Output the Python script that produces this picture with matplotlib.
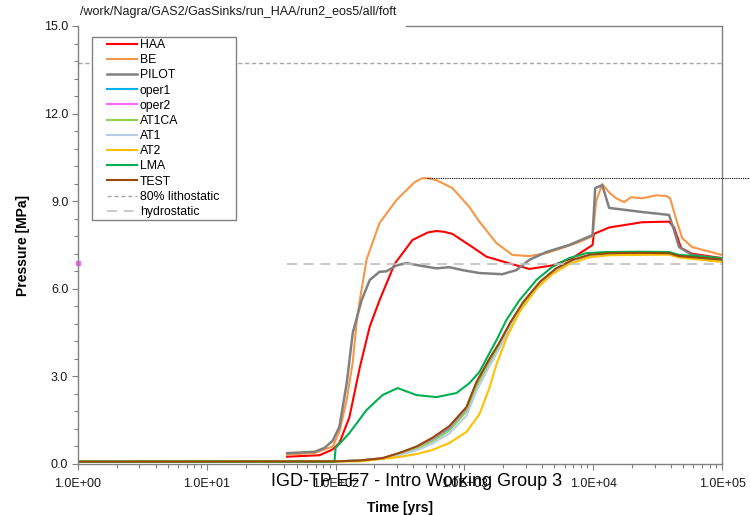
import numpy as np
import matplotlib
matplotlib.use("Agg")
import matplotlib.pyplot as plt
from matplotlib.patches import Rectangle
from matplotlib.ticker import FixedLocator, FuncFormatter

plt.rcParams['font.family'] = ['Liberation Sans', 'DejaVu Sans']

# pressure histories (time in years, pressure in MPa)
t_haa = [42, 75, 95, 107, 128, 154, 184, 219, 287, 395, 520, 607, 700, 807, 1153, 1483, 2118,
         3192, 4808, 6871, 9886, 10116, 13300, 23990, 38800, 42460, 48080, 58480, 100000]
p_haa = [0.25, 0.3, 0.5, 0.72, 1.6, 3.3, 4.7, 5.6, 6.85, 7.67, 7.93, 7.98, 7.95, 7.88, 7.43, 7.1, 6.9,
         6.68, 6.8, 7.05, 7.5, 7.88, 8.1, 8.28, 8.3, 8.1, 7.4, 7.2, 7.05]

t_be = [42, 69, 95, 107, 122, 136, 146, 154, 174, 219, 297, 355, 410, 472, 535, 607, 807, 1094, 1307,
        1770, 2355, 3192, 4324, 5754, 7780, 9886, 10550, 11750, 13300, 15070, 17380, 19720,
        23990, 30760, 36810, 39540, 43950, 48980, 58480, 100000]
p_be = [0.32, 0.38, 0.6, 1.1, 2.2, 3.5, 4.9, 5.6, 7.0, 8.25, 9.04, 9.38, 9.65, 9.79, 9.78, 9.72, 9.45,
        8.8, 8.3, 7.57, 7.16, 7.12, 7.22, 7.4, 7.6, 7.8, 9.0, 9.59, 9.3, 9.1, 8.97, 9.14,
        9.1, 9.2, 9.18, 9.1, 8.4, 7.74, 7.43, 7.16]

t_pilot = [42, 69, 82, 95, 107, 122, 136, 159, 184, 219, 248, 297, 355, 472, 607, 765, 965, 1307,
           1971, 2529, 3192, 4324, 6516, 9886, 10370, 11750, 13300, 23990, 38800, 42460, 46450,
           58480, 100000]
p_pilot = [0.37, 0.42, 0.55, 0.8, 1.27, 2.77, 4.5, 5.6, 6.3, 6.58, 6.6, 6.8, 6.88, 6.78, 6.7, 6.74,
           6.64, 6.54, 6.5, 6.64, 6.99, 7.26, 7.5, 7.84, 9.45, 9.55, 8.77, 8.63, 8.53, 8.0, 7.43,
           7.16, 7.02]

t_lma = [1, 98, 100, 128, 174, 231, 303, 425, 607, 867, 1094, 1307, 1803, 2118, 2670, 3614,
         4808, 6516, 8830, 12600, 22730, 38800, 46450, 100000]
p_lma = [0.08, 0.08, 0.55, 1.06, 1.85, 2.36, 2.6, 2.36, 2.29, 2.43, 2.77, 3.15, 4.3, 4.93, 5.6, 6.3,
         6.75, 7.05, 7.22, 7.26, 7.27, 7.26, 7.16, 7.05]

t_at2 = [1, 154, 313, 425, 565, 765, 1038, 1307, 1563, 1770, 2118, 2670, 3614, 4808, 6516,
         9310, 13300, 38800, 46450, 100000]
p_at2 = [0.08, 0.09, 0.24, 0.34, 0.48, 0.72, 1.1, 1.7, 2.6, 3.4, 4.3, 5.2, 6.0, 6.5, 6.85,
         7.08, 7.15, 7.17, 7.07, 6.92]

t_low = [1, 100, 154, 231, 313, 425, 565, 765, 1038, 1239, 1563, 1866, 2275, 2866, 3882, 5164,
         7000, 9480, 13540, 22730, 38800, 46450, 100000]
p_test = [0.08, 0.09, 0.12, 0.2, 0.38, 0.6, 0.9, 1.3, 1.95, 2.8, 3.6, 4.15, 4.85, 5.55, 6.25, 6.7,
          7.0, 7.17, 7.22, 7.23, 7.22, 7.12, 7.0]
p_oper1 = [0.08, 0.09, 0.12, 0.19, 0.35, 0.55, 0.82, 1.2, 1.85, 2.7, 3.5, 4.1, 4.8, 5.5, 6.2, 6.68,
           6.98, 7.15, 7.2, 7.21, 7.2, 7.1, 6.98]
p_oper2 = [0.08, 0.09, 0.12, 0.2, 0.37, 0.58, 0.87, 1.27, 1.92, 2.78, 3.58, 4.13, 4.83, 5.53, 6.23,
           6.69, 6.99, 7.16, 7.21, 7.22, 7.21, 7.11, 6.99]
p_at1ca = [0.08, 0.09, 0.12, 0.19, 0.34, 0.52, 0.78, 1.15, 1.8, 2.65, 3.45, 4.05, 4.77, 5.48, 6.2,
           6.67, 6.97, 7.15, 7.2, 7.21, 7.2, 7.1, 6.98]
p_at1 = [0.08, 0.09, 0.11, 0.17, 0.3, 0.47, 0.7, 1.05, 1.65, 2.5, 3.35, 3.95, 4.7, 5.42, 6.15, 6.64,
         6.95, 7.13, 7.19, 7.2, 7.19, 7.09, 6.97]

oper2_first = (1, 6.88)

p_litho = 13.73
t_litho = [1, 100000]
p_hydro = 6.85
t_hydro = [42, 100000]
p_be_max = 9.79
t_be_max = [517, 178000]

series = [
    ('HAA', t_haa, p_haa, '#ff0000'),
    ('BE', t_be, p_be, '#f79646'),
    ('PILOT', t_pilot, p_pilot, '#808080'),
    ('oper1', t_low, p_oper1, '#00b0f0'),
    ('oper2', t_low, p_oper2, '#ff66ff'),
    ('AT1CA', t_low, p_at1ca, '#92d050'),
    ('AT1', t_low, p_at1, '#b8cce4'),
    ('AT2', t_at2, p_at2, '#ffc000'),
    ('LMA', t_lma, p_lma, '#00b050'),
    ('TEST', t_low, p_test, '#984807'),
]

fig = plt.figure(figsize=(7.5, 5.15), dpi=100)
ax = fig.add_axes([78 / 750, 1 - 464 / 515, 644 / 750, 438 / 515])

for name, t, p, c in series:
    lw = 1.8 if name == 'PILOT' else 1.5
    ax.plot(t, p, color=c, lw=lw, label=name, solid_joinstyle='round')

ax.plot(t_litho, [p_litho] * 2, color='#a6a6a6', lw=1.0, dashes=(3, 2), label='80% lithostatic')
ax.plot(t_hydro, [p_hydro] * 2, color='#bfbfbf', lw=1.2, dashes=(6, 4), label='hydrostatic')
ax.plot(t_be_max, [p_be_max] * 2, color='black', lw=0.8, ls=(0, (1, 1)), clip_on=False)
ax.plot([oper2_first[0]], [oper2_first[1]], 's', color='#ff66ff', ms=2.5, clip_on=False)

ax.set_xscale('log')
ax.set_xlim(1, 1e5)
ax.set_ylim(0, 15)

ax.xaxis.set_major_locator(FixedLocator([1, 10, 100, 1000, 10000, 100000]))
ax.xaxis.set_major_formatter(FuncFormatter(lambda v, pos: '%.1E' % v))
ax.yaxis.set_major_locator(FixedLocator(np.arange(0, 15.1, 3.0)))
ax.yaxis.set_minor_locator(FixedLocator(np.arange(0, 15.1, 0.6)))
ax.yaxis.set_major_formatter(FuncFormatter(lambda v, pos: '%.1f' % v))

ax.tick_params(axis='both', which='major', direction='out', length=4, width=0.8,
               color='#808080', labelsize=9, labelcolor='#1a1a1a', pad=3)
ax.tick_params(axis='both', which='minor', direction='out', length=3, width=0.8, color='#808080')
ax.tick_params(axis='x', which='major', pad=6)

for s in ax.spines.values():
    s.set_color('#808080')
    s.set_linewidth(1.0)
ax.spines['top'].set_bounds(10 ** 2.55, 1e5)

ax.set_xlabel('Time [yrs]', fontsize=10, fontweight='bold', labelpad=8)
ax.set_ylabel('Pressure [MPa]', fontsize=10, fontweight='bold', labelpad=10)

# legend with its own box
frame = Rectangle((14 / 644, 244 / 438), 144 / 644, 183 / 438, transform=ax.transAxes,
                  facecolor='white', edgecolor='#808080', lw=1.0, zorder=5)
ax.add_patch(frame)
leg = ax.legend(loc='upper left', bbox_to_anchor=(29 / 644, 425 / 438), frameon=False,
                fontsize=8.8, handlelength=2.45, handletextpad=0.25, labelspacing=0.26,
                borderpad=0, borderaxespad=0)
leg.set_zorder(6)

fig.text(80 / 750, 1 - 12 / 515, '/work/Nagra/GAS2/GasSinks/run_HAA/run2_eos5/all/foft',
         fontsize=9, va='center', ha='left', color='#1a1a1a')
fig.text(417 / 750, 1 - 481 / 515, 'IGD-TP EF7 - Intro Working Group 3',
         fontsize=13, va='center', ha='center', color='black')

fig.savefig('out.png', dpi=100)
